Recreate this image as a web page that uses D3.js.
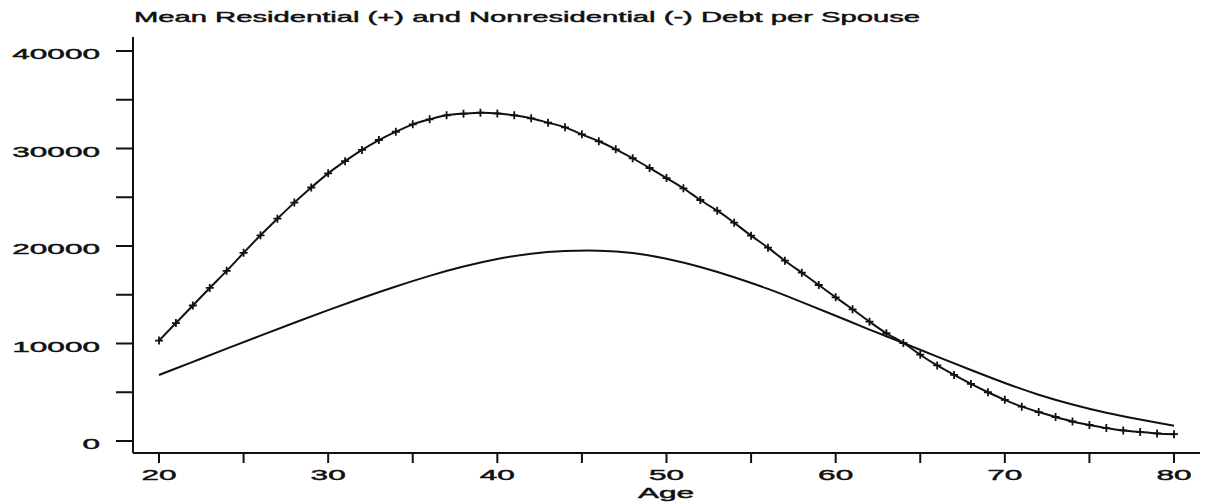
<!DOCTYPE html>
<html>
<head>
<meta charset="utf-8">
<script src="https://cdn.jsdelivr.net/npm/d3@7"></script>
<style>
  body { margin: 0; background: #fff; }
  svg { display: block; }
  text { font-family: "Liberation Sans", Arial, sans-serif; fill: #111; stroke: #111; stroke-width: 0.45; }
</style>
</head>
<body>
<svg width="1212" height="504"></svg>
<script>
// data
const resAges = [20,21,22,23,24,25,26,27,28,29,30,31,32,33,34,35,36,37,38,39,40,
  41,42,43,44,45,46,47,48,49,50,51,52,53,54,55,56,57,58,59,60,
  61,62,63,64,65,66,67,68,69,70,71,72,73,74,75,76,77,78,79,80];
const residential = [10300,12100,13900,15700,17450,19300,21100,22800,24450,26000,27450,
  28700,29850,30870,31720,32480,32990,33400,33570,33670,33600,
  33400,33100,32650,32170,31450,30740,29920,29000,28000,26970,
  25920,24720,23620,22390,21060,19830,18490,17260,16000,14740,
  13510,12240,11050,10050,8850,7750,6780,5850,5000,4220,
  3520,2970,2460,2000,1650,1330,1080,920,780,700];

const nonAges = [20,22,24,26,28,30,32,34,36,38,40,42,44,46,48,50,
  52,54,56,58,60,62,64,66,68,70,72,74,76,78,80];
const nonresidential = [6770,8120,9470,10810,12130,13420,14670,15850,16940,17890,18660,19210,19480,19520,19280,18700,
  17850,16800,15600,14250,12850,11430,10050,8650,7280,5950,4750,3750,2900,2200,1570];

const xTicks = [20,25,30,35,40,45,50,55,60,65,70,75,80];
const xLabels = [20,30,40,50,60,70,80];
const yTicks = [0,5000,10000,15000,20000,25000,30000,35000,40000];
const yLabels = [0,10000,20000,30000,40000];

const svg = d3.select("svg");
const ink = "#111";
const stretch = 2.05; // the scanned lettering is very wide

const x = d3.scaleLinear().domain([20, 80]).range([159, 1174]);
const y = d3.scaleLinear().domain([0, 40000]).range([441, 51]);
const axisX = 133, axisY = 453;

// title
svg.append("text")
  .attr("x", 134).attr("y", 22)
  .attr("font-size", 15)
  .attr("textLength", 786)
  .attr("lengthAdjust", "spacingAndGlyphs")
  .text("Mean Residential (+) and Nonresidential (-) Debt per Spouse");

// y axis
svg.append("line")
  .attr("x1", axisX).attr("x2", axisX).attr("y1", 37).attr("y2", axisY)
  .attr("stroke", ink).attr("stroke-width", 2);
svg.selectAll(".ytick").data(yTicks).enter().append("line")
  .attr("x1", axisX - 17).attr("x2", axisX)
  .attr("y1", d => y(d)).attr("y2", d => y(d))
  .attr("stroke", ink).attr("stroke-width", 2);
svg.selectAll(".ylab").data(yLabels).enter().append("text")
  .attr("transform", d => `translate(100,${y(d) + 8}) scale(${stretch},1)`)
  .attr("text-anchor", "end")
  .attr("font-size", 15.4)
  .text(d => d);

// x axis
svg.append("line")
  .attr("x1", axisX).attr("x2", 1200).attr("y1", axisY).attr("y2", axisY)
  .attr("stroke", ink).attr("stroke-width", 2);
svg.selectAll(".xtick").data(xTicks).enter().append("line")
  .attr("x1", d => x(d)).attr("x2", d => x(d))
  .attr("y1", axisY).attr("y2", axisY + 10)
  .attr("stroke", ink).attr("stroke-width", 2);
svg.selectAll(".xlab").data(xLabels).enter().append("text")
  .attr("transform", d => `translate(${x(d)},480) scale(${stretch},1)`)
  .attr("text-anchor", "middle")
  .attr("font-size", 15.4)
  .text(d => d);
svg.append("text")
  .attr("transform", `translate(666,498) scale(${stretch},1)`)
  .attr("text-anchor", "middle")
  .attr("font-size", 15.4)
  .text("Age");

// lines
const line = d3.line().curve(d3.curveNatural)
  .x(d => x(d[0])).y(d => y(d[1]));

svg.append("path")
  .datum(nonAges.map((a, i) => [a, nonresidential[i]]))
  .attr("d", line)
  .attr("fill", "none").attr("stroke", ink).attr("stroke-width", 2);

const resPts = resAges.map((a, i) => [a, residential[i]]);
svg.append("path")
  .datum(resPts)
  .attr("d", line)
  .attr("fill", "none").attr("stroke", ink).attr("stroke-width", 2);

// plus markers
svg.append("g").selectAll("path").data(resPts).enter().append("path")
  .attr("d", d => {
    const cx = x(d[0]), cy = y(d[1]), r = 4;
    return `M${cx - r},${cy}H${cx + r}M${cx},${cy - r}V${cy + r}`;
  })
  .attr("stroke", ink).attr("stroke-width", 1.8);
</script>
</body>
</html>
